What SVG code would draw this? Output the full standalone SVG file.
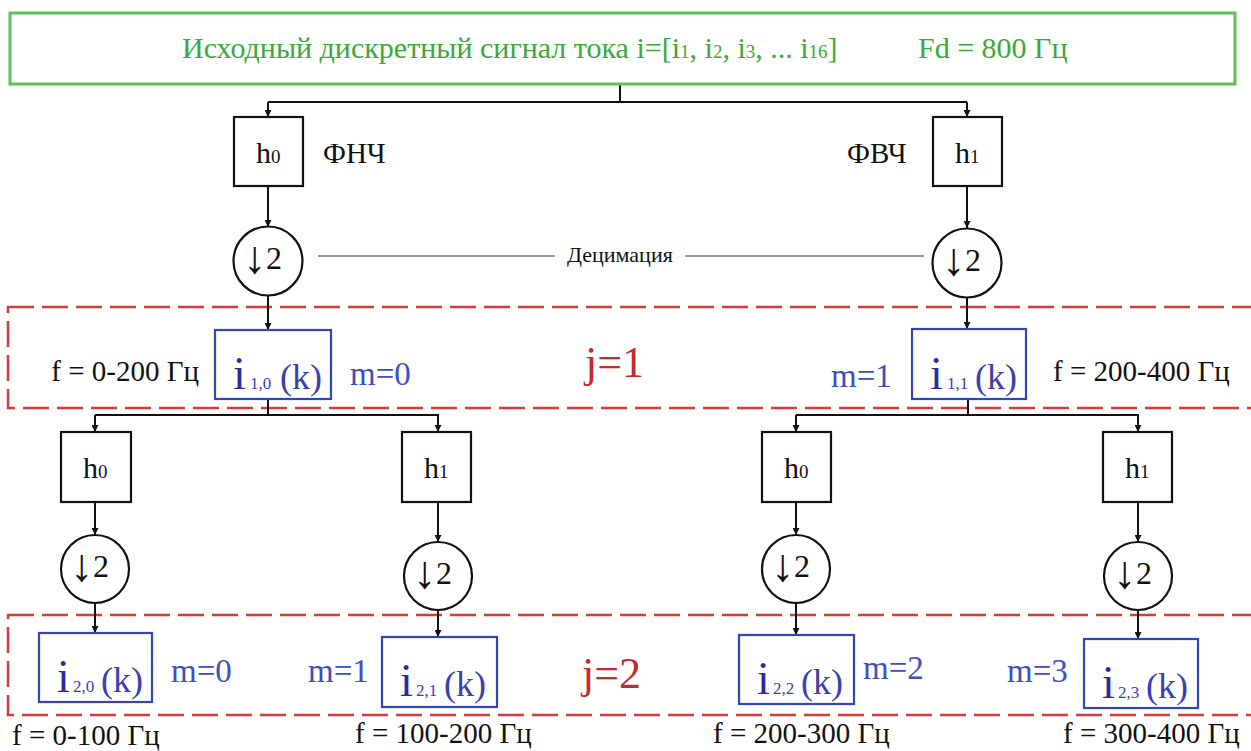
<svg xmlns="http://www.w3.org/2000/svg" width="1251" height="751" viewBox="0 0 1251 751" font-family="'Liberation Serif', 'DejaVu Serif', serif">
<defs>
<marker id="ah" viewBox="0 0 10 10" refX="10" refY="5" markerWidth="7" markerHeight="7" markerUnits="userSpaceOnUse" orient="auto">
<path d="M0,0 L10,5 L0,10 z" fill="#111"/>
</marker>
<style>
text, tspan { font-family: "Liberation Serif", "DejaVu Serif", serif; }
.conn{fill:none;stroke:#111;stroke-width:2;}
.arr{fill:none;stroke:#111;stroke-width:2;marker-end:url(#ah);}
.thin{fill:none;stroke:#333;stroke-width:1.2;}
.filt{fill:#fff;stroke:#111;stroke-width:2.2;}
.dec{fill:#fff;stroke:#111;stroke-width:2.2;}
.ibox{fill:#fff;stroke:#3344bb;stroke-width:2.2;}
.lvl{fill:none;stroke:#d43c3c;stroke-width:2.5;stroke-dasharray:26 8;}
.blk{fill:#111;font-size:29px;}
.flab{fill:#111;font-size:29px;}
.hmain{font-size:30px;fill:#111;}
.hsub{font-size:19px;fill:#111;}
.d2{font-size:32px;fill:#111;}
.dar{font-size:46px;}
.ii{font-size:46px;fill:#2a2c9c;}
.isub{font-size:17px;fill:#3a3fb0;}
.ik{font-size:36px;fill:#3a3fb0;}
.m{font-size:33px;fill:#3c4ec0;}
.j{font-size:44px;fill:#c42a2a;}
.title{font-size:30px;fill:#3aa83a;}
.tsub{font-size:19px;}
</style>
</defs>
<g id="levels">
<rect class="lvl" x="8" y="307" width="1262" height="101"/>
<rect class="lvl" x="8" y="615" width="1262" height="100"/>
</g>
<g id="connectors">
<path class="conn" d="M620,84 V102 M268,102 H967"/>
<path class="arr" d="M268,102 V117"/>
<path class="arr" d="M967,102 V117"/>
<path class="arr" d="M268,186 V227"/>
<path class="arr" d="M967,186 V228"/>
<path class="arr" d="M268,296 V330"/>
<path class="arr" d="M967,298 V329"/>
<path class="thin" d="M318,256 H555 M685,256 H924"/>
<path class="conn" d="M268,399 V415 M95,415 H439"/>
<path class="arr" d="M95,415 V432"/>
<path class="arr" d="M438,415 V432"/>
<path class="conn" d="M968,399 V415 M796,415 H1139"/>
<path class="arr" d="M796,415 V432"/>
<path class="arr" d="M1138,415 V432"/>
<path class="arr" d="M95,502 V535"/>
<path class="arr" d="M438,502 V542"/>
<path class="arr" d="M796,502 V535"/>
<path class="arr" d="M1138,502 V542"/>
<path class="arr" d="M95,603 V633"/>
<path class="arr" d="M438,610 V637"/>
<path class="arr" d="M796,603 V635"/>
<path class="arr" d="M1138,610 V639"/>
</g>
<g id="source">
<rect x="10" y="13" width="1225" height="71" fill="#fff" stroke="#5cc05c" stroke-width="3"/>
<text class="title" x="182" y="58">Исходный дискретный сигнал тока i=[i<tspan class="tsub">1</tspan>, i<tspan class="tsub">2</tspan>, i<tspan class="tsub">3</tspan>, ... i<tspan class="tsub">16</tspan>]</text>
<text class="title" x="918" y="58" font-size="27">Fd = 800 Гц</text>
</g>
<g id="h0_1">
<rect class="filt" x="234" y="117" width="69" height="69"/>
<text x="256" y="163"><tspan class="hmain">h</tspan><tspan class="hsub">0</tspan></text>
<text class="blk" x="323" y="163">ФНЧ</text>
</g>
<g id="h1_1">
<rect class="filt" x="933" y="117" width="69" height="69"/>
<text x="955" y="163"><tspan class="hmain">h</tspan><tspan class="hsub">1</tspan></text>
<text class="blk" x="847" y="163">ФВЧ</text>
</g>
<g id="dec_1a">
<ellipse class="dec" cx="268" cy="261" rx="34.5" ry="34.5"/>
<text class="d2" x="243" y="269"><tspan class="dar" dy="4">↓</tspan><tspan dy="-4">2</tspan></text>
</g>
<g id="dec_1b">
<ellipse class="dec" cx="967" cy="263" rx="34.5" ry="34.5"/>
<text class="d2" x="942" y="271"><tspan class="dar" dy="4">↓</tspan><tspan dy="-4">2</tspan></text>
</g>
<g id="decim_label">
<text x="567" y="262" font-size="22" fill="#111">Децимация</text>
</g>
<g id="i10">
<rect class="ibox" x="215" y="330" width="116" height="69"/>
<text y="389"><tspan class="ii" x="233">i</tspan><tspan class="isub" x="250">1,0</tspan><tspan class="ik" x="280">(k)</tspan></text>
<text class="flab" x="199" y="381" text-anchor="end">f = 0-200 Гц</text>
<text class="m" x="350" y="385">m=0</text>
</g>
<g id="j1"><text class="j" x="585" y="377">j=1</text></g>
<g id="i11">
<rect class="ibox" x="912" y="329" width="114" height="70"/>
<text y="389"><tspan class="ii" x="930">i</tspan><tspan class="isub" x="947">1,1</tspan><tspan class="ik" x="975">(k)</tspan></text>
<text class="m" x="831" y="387">m=1</text>
<text class="flab" x="1053" y="381">f = 200-400 Гц</text>
</g>
<g id="h0_2a">
<rect class="filt" x="61" y="432" width="70" height="70"/>
<text x="83" y="478"><tspan class="hmain">h</tspan><tspan class="hsub">0</tspan></text>
</g>
<g id="h1_2a">
<rect class="filt" x="402" y="432" width="69" height="70"/>
<text x="424" y="478"><tspan class="hmain">h</tspan><tspan class="hsub">1</tspan></text>
</g>
<g id="h0_2b">
<rect class="filt" x="762" y="432" width="69" height="70"/>
<text x="784" y="478"><tspan class="hmain">h</tspan><tspan class="hsub">0</tspan></text>
</g>
<g id="h1_2b">
<rect class="filt" x="1103" y="432" width="69" height="70"/>
<text x="1125" y="478"><tspan class="hmain">h</tspan><tspan class="hsub">1</tspan></text>
</g>
<g id="dec_2a">
<ellipse class="dec" cx="95" cy="569" rx="34" ry="34"/>
<text class="d2" x="70" y="577"><tspan class="dar" dy="4">↓</tspan><tspan dy="-4">2</tspan></text>
</g>
<g id="dec_2b">
<ellipse class="dec" cx="438" cy="576" rx="34" ry="34"/>
<text class="d2" x="413" y="584"><tspan class="dar" dy="4">↓</tspan><tspan dy="-4">2</tspan></text>
</g>
<g id="dec_2c">
<ellipse class="dec" cx="796" cy="569" rx="34" ry="34"/>
<text class="d2" x="771" y="577"><tspan class="dar" dy="4">↓</tspan><tspan dy="-4">2</tspan></text>
</g>
<g id="dec_2d">
<ellipse class="dec" cx="1138" cy="576" rx="34" ry="34"/>
<text class="d2" x="1113" y="584"><tspan class="dar" dy="4">↓</tspan><tspan dy="-4">2</tspan></text>
</g>
<g id="i20">
<rect class="ibox" x="39" y="633" width="113" height="69"/>
<text y="692"><tspan class="ii" x="57">i</tspan><tspan class="isub" x="73">2,0</tspan><tspan class="ik" x="101">(k)</tspan></text>
<text class="m" x="171" y="682">m=0</text>
<text class="flab" x="12" y="745">f = 0-100 Гц</text>
</g>
<g id="i21">
<rect class="ibox" x="382" y="637" width="115" height="70"/>
<text y="696"><tspan class="ii" x="400">i</tspan><tspan class="isub" x="416">2,1</tspan><tspan class="ik" x="444">(k)</tspan></text>
<text class="m" x="308" y="682">m=1</text>
<text class="flab" x="355" y="743">f = 100-200 Гц</text>
</g>
<g id="j2"><text class="j" x="582" y="688">j=2</text></g>
<g id="i22">
<rect class="ibox" x="739" y="635" width="115" height="69"/>
<text y="694"><tspan class="ii" x="757">i</tspan><tspan class="isub" x="773">2,2</tspan><tspan class="ik" x="801">(k)</tspan></text>
<text class="m" x="863" y="679">m=2</text>
<text class="flab" x="713" y="743">f = 200-300 Гц</text>
</g>
<g id="i23">
<rect class="ibox" x="1084" y="639" width="114" height="69"/>
<text y="698"><tspan class="ii" x="1102">i</tspan><tspan class="isub" x="1118">2,3</tspan><tspan class="ik" x="1146">(k)</tspan></text>
<text class="m" x="1007" y="682">m=3</text>
<text class="flab" x="1063" y="743">f = 300-400 Гц</text>
</g>
</svg>
